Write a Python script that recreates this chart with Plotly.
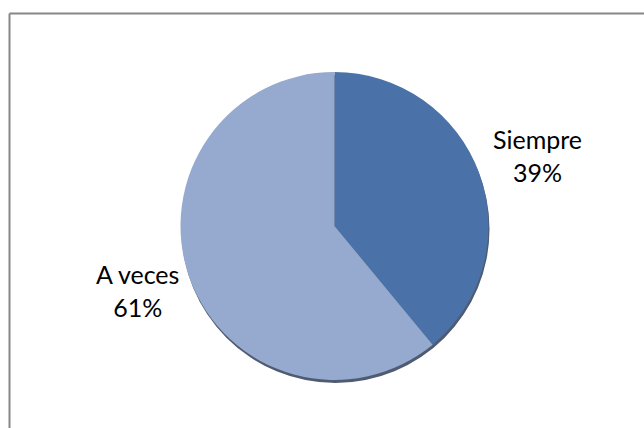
import plotly.graph_objects as go

# Survey response shares
labels = ["Siempre", "A veces"]
shares = [39, 61]
colors = ["#4A72A8", "#95AACE"]

W, H = 644, 428

# Pie placement in pixels (left, right, top, bottom)
px_l, px_r, px_t, px_b = 180, 489, 72, 380


def dom(l, r, t, b):
    return dict(x=[l / W, r / W], y=[1 - b / H, 1 - t / H])


fig = go.Figure()

# Soft shadow under the pie
fig.add_trace(go.Pie(
    values=[1],
    marker=dict(colors=["#2F3E57"]),
    domain=dom(px_l + 1, px_r + 1, px_t + 3, px_b + 3),
    textinfo="none", hoverinfo="skip", showlegend=False, sort=False,
    opacity=0.85,
))

fig.add_trace(go.Pie(
    labels=labels,
    values=shares,
    marker=dict(colors=colors, line=dict(width=0)),
    domain=dom(px_l, px_r, px_t, px_b),
    direction="clockwise",
    rotation=0,
    sort=False,
    textinfo="none",
    showlegend=False,
))

# Category labels with their percentage
label_pos = {"Siempre": (537, 156), "A veces": (137, 290)}
for name, val in zip(labels, shares):
    x, y = label_pos[name]
    fig.add_annotation(
        x=x / W, y=1 - y / H, xref="paper", yref="paper",
        xanchor="center", yanchor="middle",
        text=f"{name}<br>{val}%", showarrow=False,
        font=dict(family="Lato, Open Sans, sans-serif", size=25, color="#000000"),
        align="center",
    )

# Chart-area frame (top and left edges visible)
frame = dict(type="line", xref="paper", yref="paper",
             line=dict(color="#878787", width=2))
fig.add_shape(**frame, x0=9.5 / W, x1=1.0, y0=1 - 13.5 / H, y1=1 - 13.5 / H)
fig.add_shape(**frame, x0=9.5 / W, x1=9.5 / W, y0=0.0, y1=1 - 13.5 / H)

fig.update_layout(
    width=W, height=H,
    margin=dict(l=0, r=0, t=0, b=0),
    paper_bgcolor="white", plot_bgcolor="white",
)

fig.write_html("out.html")
